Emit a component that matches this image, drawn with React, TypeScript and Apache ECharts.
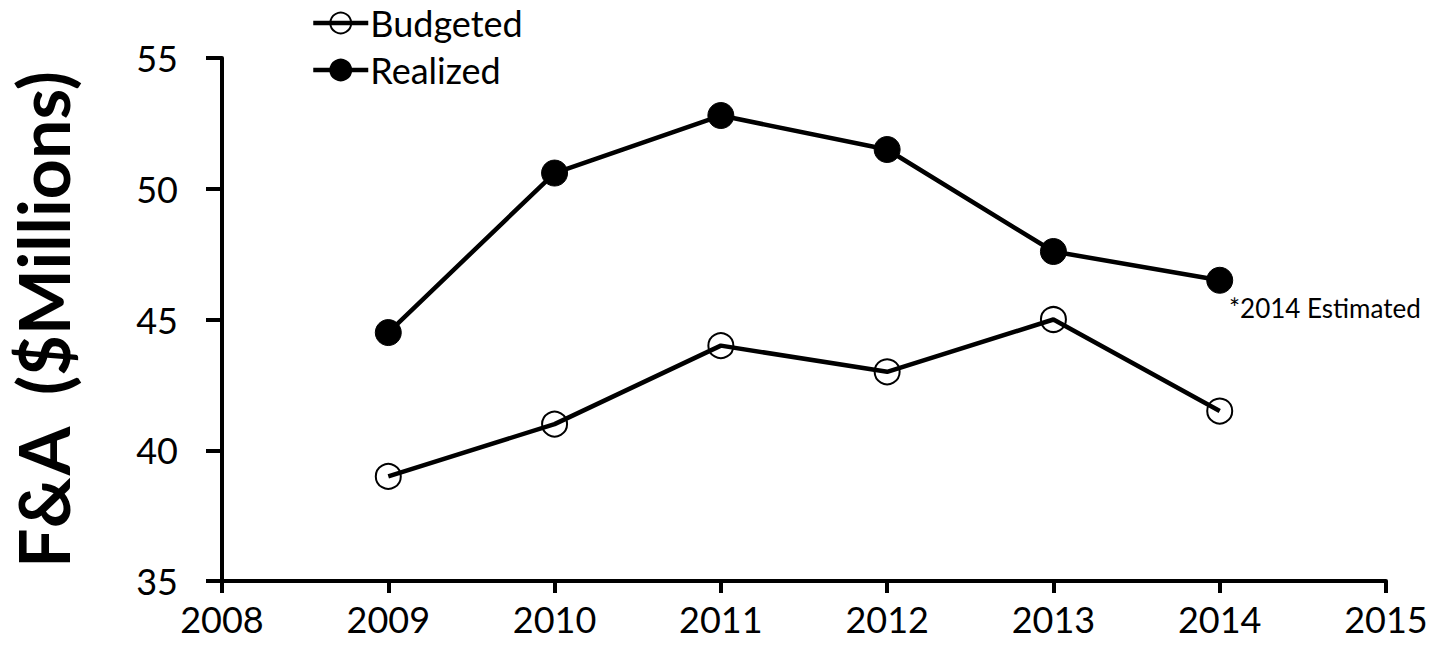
import React, { useEffect, useRef } from "react";
import * as echarts from "echarts";

const years = [2009, 2010, 2011, 2012, 2013, 2014];
const budgeted = [39.0, 41.0, 44.0, 43.0, 45.0, 41.5];
const realized = [44.5, 50.6, 52.8, 51.5, 47.6, 46.5];
const yTicks = { min: 35, max: 55, interval: 5 };
const xTicks = { min: 2008, max: 2015, interval: 1 };
const FONT = "Lato, 'Open Sans', sans-serif";

export default function App() {
  const ref = useRef<HTMLDivElement>(null);
  useEffect(() => {
    document.body.style.margin = "0";
    const chart = echarts.init(ref.current!, undefined, { renderer: "svg" });
    const axisLine = { lineStyle: { color: "#000", width: 4 } };
    chart.setOption({
      animation: false,
      backgroundColor: "#fff",
      textStyle: { fontFamily: FONT },
      grid: { left: 221, right: 57, top: 58, bottom: 73 },
      legend: {
        orient: "vertical",
        left: 306,
        top: 0,
        itemWidth: 55,
        itemHeight: 26,
        itemGap: 11,
        lineStyle: { width: 4.5, color: "#000" },
        textStyle: { fontSize: 36, color: "#000", fontFamily: FONT, padding: [0, 0, 0, -3] },
        data: [
          { name: "Budgeted", lineStyle: { width: 4.5, color: "#000" } },
          { name: "Realized", lineStyle: { width: 4.5, color: "#000" } },
        ],
      },
      xAxis: {
        type: "value",
        min: xTicks.min,
        max: xTicks.max,
        interval: xTicks.interval,
        axisLine: { show: true, ...axisLine },
        axisTick: { show: true, length: 12, lineStyle: { color: "#000", width: 4 } },
        splitLine: { show: false },
        axisLabel: { fontSize: 36, color: "#000", margin: 20, fontFamily: FONT, formatter: (v: number) => String(v) },
      },
      yAxis: {
        type: "value",
        min: yTicks.min,
        max: yTicks.max,
        interval: yTicks.interval,
        name: "F&A  ($Millions)",
        nameLocation: "middle",
        nameRotate: 90,
        nameGap: 144,
        nameTextStyle: { fontSize: 70, fontWeight: "bold", color: "#000", fontFamily: FONT },
        axisLine: { show: true, ...axisLine },
        axisTick: { show: true, length: 16, lineStyle: { color: "#000", width: 4 } },
        splitLine: { show: false },
        axisLabel: { fontSize: 36, color: "#000", margin: 44, fontFamily: FONT },
      },
      series: [
        {
          name: "Budgeted",
          type: "line",
          data: years.map((y, i) => [y, budgeted[i]]),
          symbol: "circle",
          symbolSize: 25,
          showAllSymbol: true,
          lineStyle: { color: "#000", width: 4.5 },
          itemStyle: { color: "rgba(0,0,0,0)", borderColor: "#000", borderWidth: 2 },
        },
        {
          name: "Realized",
          type: "line",
          data: years.map((y, i) => [y, realized[i]]),
          symbol: "circle",
          symbolSize: 26,
          lineStyle: { color: "#000", width: 4.5 },
          itemStyle: { color: "#000", borderColor: "#000", borderWidth: 1 },
        },
      ],
      graphic: [
        {
          type: "text",
          left: 1229,
          top: 295,
          style: { text: "*2014 Estimated", fontSize: 26, fill: "#000", fontFamily: FONT },
        },
      ],
    });
    return () => chart.dispose();
  }, []);
  return <div ref={ref} style={{ width: 1443, height: 654 }} />;
}
